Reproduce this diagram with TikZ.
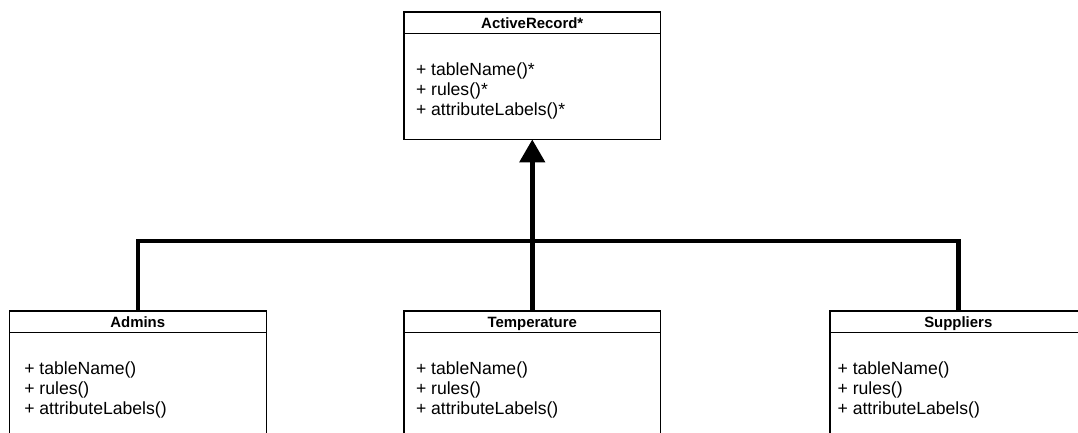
\documentclass[tikz,border=0pt]{standalone}
\usepackage{fontspec}
\setmainfont{Liberation Sans}
\usetikzlibrary{arrows.meta}
\begin{document}
\begin{tikzpicture}[x=0.75pt,y=-0.75pt,
  classbox/.style={draw=black,line width=0.8pt,anchor=north west,minimum width=192.4pt,minimum height=95.6pt,inner sep=0pt,outer sep=0pt},
  classtitle/.style={font=\fontsize{11.2}{13}\selectfont\bfseries,inner sep=0pt,anchor=base},
  classbody/.style={font=\fontsize{13.2}{15}\selectfont,align=left,anchor=north west,inner sep=0pt},
  sepline/.style={draw=black,line width=0.8pt},
  conn/.style={draw=black,line width=3.4pt}]
\useasboundingbox (0,0) rectangle (1078,432);
\clip (0,0) rectangle (1078,432);
% boxes
\node[classbox] (ar) at (404,12) {};
\node[classbox] (admins) at (9.5,311) {};
\node[classbox] (temp) at (404,311) {};
\node[classbox] (supp) at (830,311) {};
% header separators
\foreach \b in {ar,admins,temp,supp}{
  \draw[sepline] ([yshift=-16.1pt]\b.north west) -- ([yshift=-16.1pt]\b.north east);
}
% titles
\node[classtitle] (artitle) at ([yshift=-12.2pt]ar.north) {ActiveRecord*};
\node[classtitle] (admtitle) at ([yshift=-12.2pt]admins.north) {Admins};
\node[classtitle] (temptitle) at ([yshift=-12.2pt]temp.north) {Temperature};
\node[classtitle] (supptitle) at ([yshift=-12.2pt]supp.north) {Suppliers};
% bodies
\node[classbody] (arbody) at ([xshift=8.8pt,yshift=-37.8pt]ar.north west) {+ tableName()*\\+ rules()*\\+ attributeLabels()*};
\node[classbody] (admbody) at ([xshift=10.9pt,yshift=-37.8pt]admins.north west) {+ tableName()\\+ rules()\\+ attributeLabels()};
\node[classbody] (tempbody) at ([xshift=8.8pt,yshift=-37.8pt]temp.north west) {+ tableName()\\+ rules()\\+ attributeLabels()};
\node[classbody] (suppbody) at ([xshift=5.5pt,yshift=-37.8pt]supp.north west) {+ tableName()\\+ rules()\\+ attributeLabels()};
% connectors
\coordinate (junction) at (531.5,241);
\draw[conn] (admins.north) |- (junction) -| (supp.north);
\draw[conn,-{Triangle[length=17.2pt,width=18.8pt]}] (temp.north) -- (ar.south);
\end{tikzpicture}
\end{document}
